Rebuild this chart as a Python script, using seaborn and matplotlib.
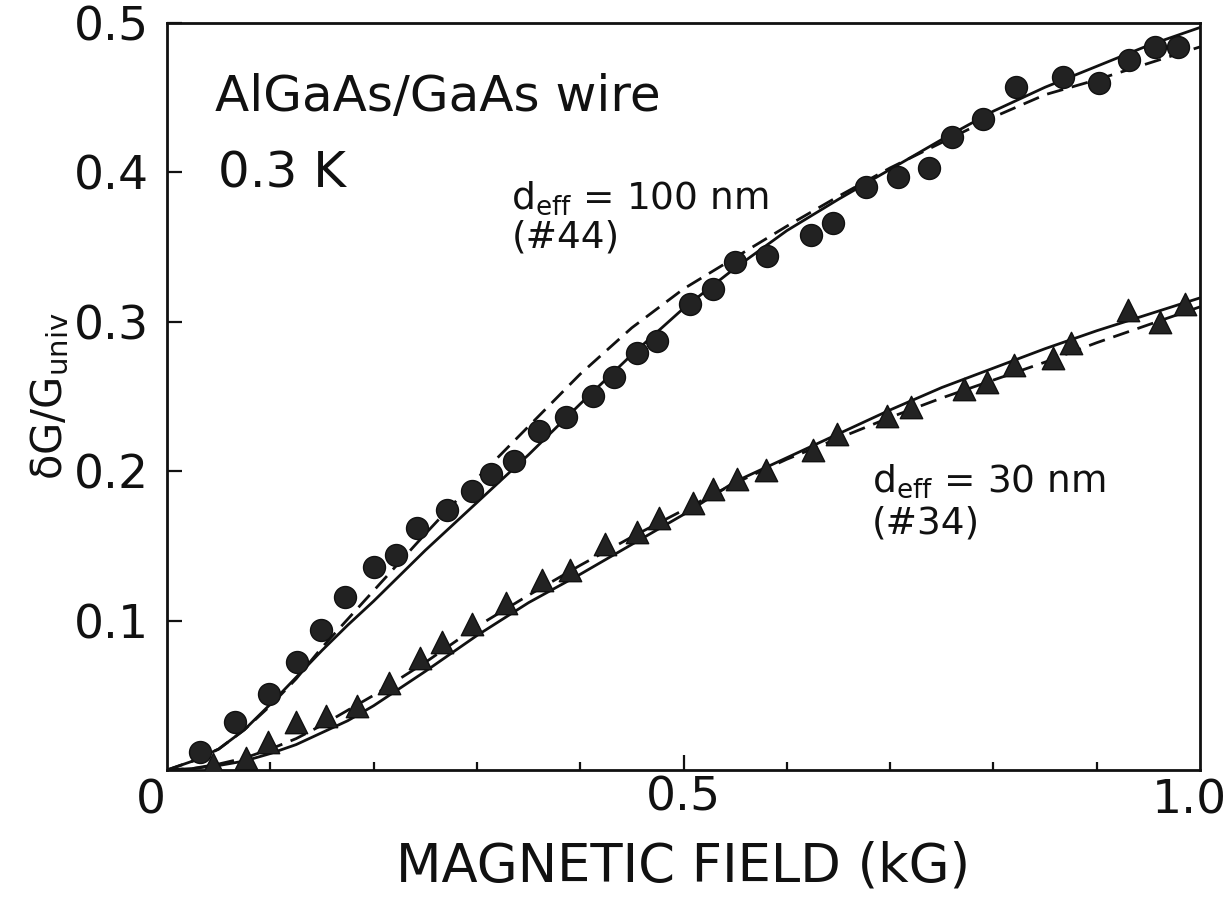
import matplotlib
matplotlib.use("Agg")
import matplotlib.pyplot as plt
import seaborn as sns
from matplotlib.ticker import FixedLocator

# Measured magnetoconductance, wire #44 (d_eff = 100 nm)
field_44 = [0.032, 0.066, 0.099, 0.126, 0.149, 0.172, 0.200, 0.222, 0.242, 0.271,
            0.295, 0.314, 0.336, 0.360, 0.386, 0.412, 0.433, 0.455, 0.474, 0.506,
            0.529, 0.550, 0.581, 0.623, 0.645, 0.677, 0.708, 0.738, 0.760, 0.790,
            0.822, 0.867, 0.902, 0.931, 0.956, 0.979]
dg_44 = [0.012, 0.032, 0.051, 0.072, 0.094, 0.116, 0.136, 0.144, 0.162, 0.174,
         0.187, 0.198, 0.207, 0.227, 0.236, 0.250, 0.263, 0.279, 0.287, 0.312,
         0.322, 0.340, 0.344, 0.358, 0.366, 0.390, 0.397, 0.403, 0.424, 0.436,
         0.457, 0.464, 0.460, 0.475, 0.484, 0.484]

# Measured magnetoconductance, wire #34 (d_eff = 30 nm)
field_34 = [0.045, 0.076, 0.098, 0.125, 0.154, 0.184, 0.215, 0.245, 0.266, 0.295,
            0.328, 0.363, 0.390, 0.424, 0.455, 0.476, 0.509, 0.529, 0.552, 0.580,
            0.625, 0.649, 0.697, 0.720, 0.772, 0.794, 0.820, 0.858, 0.875, 0.930,
            0.961, 0.985]
dg_34 = [0.004, 0.008, 0.019, 0.032, 0.036, 0.043, 0.058, 0.075, 0.086, 0.098,
         0.112, 0.127, 0.134, 0.151, 0.159, 0.169, 0.179, 0.188, 0.195, 0.201,
         0.214, 0.225, 0.237, 0.243, 0.255, 0.260, 0.271, 0.276, 0.286, 0.308,
         0.300, 0.312]

# Theory curves (solid and dashed fits) sampled along the field axis
fit_field = [0.0, 0.025, 0.05, 0.075, 0.1, 0.125, 0.15, 0.175, 0.2, 0.25, 0.3,
             0.35, 0.4, 0.45, 0.5, 0.55, 0.6, 0.65, 0.7, 0.75, 0.8, 0.85, 0.9,
             0.95, 1.0]
solid_44 = [0.0, 0.006, 0.014, 0.027, 0.044, 0.062, 0.080, 0.097, 0.113, 0.147,
            0.179, 0.211, 0.245, 0.278, 0.309, 0.336, 0.361, 0.382, 0.402, 0.422,
            0.441, 0.457, 0.471, 0.485, 0.497]
dashed_44 = [0.0, 0.006, 0.014, 0.027, 0.043, 0.061, 0.082, 0.101, 0.120, 0.158,
             0.195, 0.230, 0.265, 0.296, 0.322, 0.343, 0.364, 0.384, 0.403, 0.420,
             0.437, 0.452, 0.462, 0.473, 0.484]
solid_34 = [0.0, 0.001, 0.003, 0.006, 0.011, 0.017, 0.025, 0.033, 0.043, 0.066,
            0.090, 0.112, 0.131, 0.151, 0.171, 0.193, 0.209, 0.225, 0.241, 0.256,
            0.269, 0.282, 0.294, 0.305, 0.316]
dashed_34 = [0.0, 0.001, 0.004, 0.008, 0.014, 0.021, 0.030, 0.040, 0.050, 0.072,
             0.096, 0.117, 0.137, 0.156, 0.174, 0.192, 0.208, 0.222, 0.236, 0.249,
             0.261, 0.273, 0.286, 0.298, 0.310]

x_major = [0.5]
x_minor = [0.1, 0.2, 0.3, 0.4, 0.6, 0.7, 0.8, 0.9]
y_ticks = [0.1, 0.2, 0.3, 0.4, 0.5]
y_ticklabels = ["0.1", "0.2", "0.3", "0.4", "0.5"]

sns.set_theme(style="white")
plt.rcParams["font.family"] = ["DejaVu Sans"]
plt.rcParams["mathtext.fontset"] = "dejavusans"

ink = "#111111"
fig = plt.figure(figsize=(12.3, 9.05), dpi=100)
ax = fig.add_axes([167 / 1230, 1 - 770 / 905, 1033 / 1230, 747 / 905])

for ys in (solid_44, solid_34):
    sns.lineplot(x=fit_field, y=ys, ax=ax, color=ink, lw=2.0, sort=False,
                 estimator=None, zorder=2)
for ys in (dashed_44, dashed_34):
    sns.lineplot(x=fit_field, y=ys, ax=ax, color=ink, lw=2.0, sort=False,
                 estimator=None, linestyle=(0, (6, 3.2)), zorder=2)

sns.scatterplot(x=field_44, y=dg_44, ax=ax, marker="o", s=250, color="#222222",
                edgecolor=ink, linewidth=1.0, zorder=3)
sns.scatterplot(x=field_34, y=dg_34, ax=ax, marker="^", s=260, color="#222222",
                edgecolor=ink, linewidth=1.0, zorder=3)

ax.set_xlim(0, 1.0)
ax.set_ylim(0, 0.5)

for side in ("left", "right", "top", "bottom"):
    ax.spines[side].set_visible(True)
    ax.spines[side].set_color(ink)
    ax.spines[side].set_linewidth(2.0)

ax.xaxis.set_major_locator(FixedLocator(x_major))
ax.xaxis.set_minor_locator(FixedLocator(x_minor))
ax.set_xticklabels(["0.5"])
ax.yaxis.set_major_locator(FixedLocator(y_ticks))
ax.set_yticklabels(y_ticklabels)
ax.tick_params(axis="x", which="major", direction="in", length=11, width=1.6,
               color=ink, labelcolor=ink, labelsize=34, pad=4,
               bottom=True, top=False)
ax.tick_params(axis="x", which="minor", direction="in", length=6, width=1.6,
               color=ink, bottom=True, top=False)
ax.tick_params(axis="y", which="major", direction="in", length=11, width=1.6,
               color=ink, labelcolor=ink, labelsize=34, pad=13,
               left=True, right=False)

# end labels of the field axis
ax.text(-0.016, -0.006, "0", transform=ax.transData, ha="center", va="top",
        fontsize=34, color=ink)
ax.text(0.99, -0.006, "1.0", transform=ax.transData, ha="center", va="top",
        fontsize=34, color=ink)

ax.set_xlabel("MAGNETIC FIELD (kG)", fontsize=38, color=ink, labelpad=14)
ax.set_ylabel("δG/G$_{\\rm univ}$", fontsize=30, color=ink, labelpad=2)

ax.text(0.046, 0.441, "AlGaAs/GaAs wire", fontsize=36, color=ink, ha="left",
        va="baseline")
ax.text(0.049, 0.390, "0.3 K", fontsize=36, color=ink, ha="left", va="baseline")
ax.text(0.333, 0.376, r"d$_{\rm eff}$ = 100 nm", fontsize=27, color=ink,
        ha="left", va="baseline")
ax.text(0.334, 0.350, "(#44)", fontsize=27, color=ink, ha="left", va="baseline")
ax.text(0.682, 0.186, r"d$_{\rm eff}$ = 30 nm", fontsize=27, color=ink,
        ha="left", va="baseline")
ax.text(0.682, 0.158, "(#34)", fontsize=27, color=ink, ha="left", va="baseline")

fig.savefig("out.png", dpi=100, facecolor="white")
